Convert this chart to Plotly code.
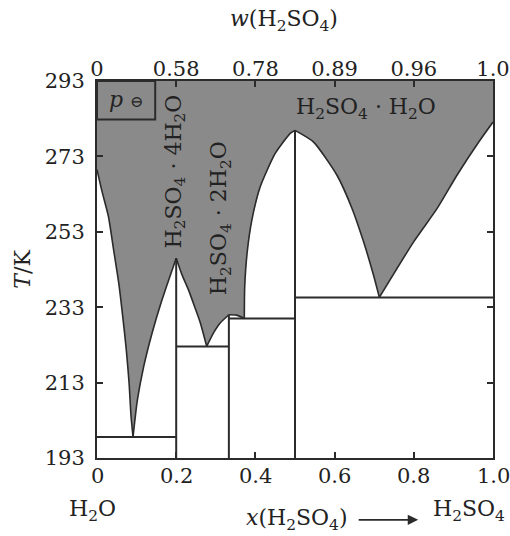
import plotly.graph_objects as go

# ---------------- data ----------------
# liquidus curves: x = mole fraction of H2SO4, T in K
ice_x = [0.0, 0.012, 0.029, 0.042, 0.055, 0.065, 0.074, 0.081, 0.086, 0.091]
ice_T = [269.5, 264.0, 257.0, 248.2, 239.3, 230.5, 221.7, 212.9, 204.0, 198.6]

tetra_left_x = [0.091, 0.102, 0.118, 0.139, 0.164, 0.2]
tetra_left_T = [198.6, 208.4, 217.3, 226.1, 234.9, 246.0]

tetra_right_x = [0.2, 0.215, 0.231, 0.247, 0.261, 0.277]
tetra_right_T = [246.0, 241.5, 237.6, 233.0, 228.8, 222.6]

di_left_x = [0.277, 0.295, 0.311, 0.333]
di_left_T = [222.6, 226.3, 228.8, 231.0]

di_right_x = [0.333, 0.352, 0.372]
di_right_T = [231.0, 230.9, 230.0]

mono_left_x = [0.372, 0.373, 0.379, 0.391, 0.412, 0.45, 0.488, 0.5]
mono_left_T = [230.0, 238.4, 247.3, 256.1, 264.9, 273.8, 279.1, 279.9]

mono_right_x = [0.5, 0.547, 0.606, 0.644, 0.673, 0.698, 0.713]
mono_right_T = [279.9, 276.8, 268.0, 259.2, 250.4, 241.6, 235.6]

acid_x = [0.713, 0.80, 0.859, 0.909, 0.964, 1.0]
acid_T = [235.6, 250.4, 259.2, 268.0, 276.8, 282.1]

# compounds (vertical lines) and eutectic lines
compound_x = [0.2, 0.333, 0.5]
compound_Tm = [246.0, 231.0, 279.9]
eutectic_T = [198.6, 222.6, 230.0, 235.6]
eutectic_from = [0.0, 0.2, 0.333, 0.5]
eutectic_to = [0.2, 0.333, 0.5, 1.0]

T_min, T_max = 193, 293
y_ticks = [193, 213, 233, 253, 273, 293]
x_ticks = [0, 0.2, 0.4, 0.6, 0.8, 1.0]
x_ticktext = ["0", "0.2", "0.4", "0.6", "0.8", "1.0"]
w_ticktext = ["0", "0.58", "0.78", "0.89", "0.96", "1.0"]

# ---------------- styling ----------------
GRAY = "#8a8a8a"
INK = "#2b2b2b"
FONT = "DejaVu Serif"

fig = go.Figure()

# liquid region (gray)
poly_x = ([0.0, 1.0] + acid_x[::-1] + mono_right_x[::-1] + mono_left_x[::-1]
          + di_right_x[::-1] + di_left_x[::-1] + tetra_right_x[::-1]
          + tetra_left_x[::-1] + ice_x[::-1] + [0.0])
poly_T = ([T_max, T_max] + acid_T[::-1] + mono_right_T[::-1] + mono_left_T[::-1]
          + di_right_T[::-1] + di_left_T[::-1] + tetra_right_T[::-1]
          + tetra_left_T[::-1] + ice_T[::-1] + [T_max])
fig.add_trace(go.Scatter(x=poly_x, y=poly_T, fill="toself", fillcolor=GRAY,
                         mode="lines", line=dict(width=0), hoverinfo="skip",
                         showlegend=False))

# liquidus curves
for cx, cT in [(ice_x, ice_T), (tetra_left_x, tetra_left_T),
               (tetra_right_x, tetra_right_T), (di_left_x, di_left_T),
               (di_right_x, di_right_T), (mono_left_x, mono_left_T),
               (mono_right_x, mono_right_T), (acid_x, acid_T)]:
    fig.add_trace(go.Scatter(x=cx, y=cT, mode="lines",
                             line=dict(color=INK, width=1.6, shape="spline", smoothing=0.6),
                             hoverinfo="skip", showlegend=False))

# compound verticals
for cx, tm in zip(compound_x, compound_Tm):
    fig.add_trace(go.Scatter(x=[cx, cx], y=[T_min, tm], mode="lines",
                             line=dict(color=INK, width=2), showlegend=False,
                             hoverinfo="skip"))
# eutectic horizontals
for x0, x1, te in zip(eutectic_from, eutectic_to, eutectic_T):
    fig.add_trace(go.Scatter(x=[x0, x1], y=[te, te], mode="lines",
                             line=dict(color=INK, width=2), showlegend=False,
                             hoverinfo="skip"))

# invisible trace for top axis
fig.add_trace(go.Scatter(x=[0, 1], y=[T_min, T_min], xaxis="x2", mode="lines",
                         line=dict(width=0), hoverinfo="skip", showlegend=False))

# p-standard box
fig.add_shape(type="rect", xref="x", yref="y", x0=0, x1=0.147, y0=282.8, y1=T_max,
              line=dict(color=INK, width=2), fillcolor="rgba(0,0,0,0)")

tf = dict(family=FONT, size=21, color="#222")
fig.update_layout(
    width=510, height=536,
    margin=dict(l=97, r=17, t=81, b=78, autoexpand=False),
    paper_bgcolor="white", plot_bgcolor="white",
    xaxis=dict(range=[0, 1], tickvals=x_ticks, showticklabels=False,
               ticks="inside", ticklen=6, tickwidth=1.5, tickcolor=INK,
               showline=True, linecolor=INK, linewidth=2, mirror="ticks",
               showgrid=False, zeroline=False, automargin=False),
    xaxis2=dict(range=[0, 1], overlaying="x", side="top", tickvals=x_ticks,
                ticktext=w_ticktext, ticks="", showline=False, showgrid=False,
                zeroline=False, tickfont=tf, ticklabelstandoff=0, automargin=False),
    yaxis=dict(range=[T_min, T_max], tickvals=y_ticks,
               ticks="inside", ticklen=6, tickwidth=1.5, tickcolor=INK,
               showline=True, linecolor=INK, linewidth=2, mirror="ticks",
               showgrid=False, zeroline=False, tickfont=tf, ticklabelstandoff=6,
               automargin=False),
)

ann_font = dict(family=FONT, size=22, color="#222")
C = dict(xanchor="center", yanchor="middle", showarrow=False, font=ann_font)
anns = [
    dict(x=0.197, y=269.0, xref="x", yref="y", text="H<sub>2</sub>SO<sub>4</sub> · 4H<sub>2</sub>O",
         textangle=-90, **C),
    dict(x=0.312, y=256.5, xref="x", yref="y", text="H<sub>2</sub>SO<sub>4</sub> · 2H<sub>2</sub>O",
         textangle=-90, **C),
    dict(x=0.68, y=285.7, xref="x", yref="y", text="H<sub>2</sub>SO<sub>4</sub> · H<sub>2</sub>O", **C),
    dict(x=0.074, y=288.2, xref="x", yref="y",
         text="<i>p</i> <span style='font-size:16px'>⊖</span>", **C),
    dict(x=-0.012, y=-0.14, xref="paper", yref="paper", text="H<sub>2</sub>O", **C),
    dict(x=0.94, y=-0.14, xref="paper", yref="paper", text="H<sub>2</sub>SO<sub>4</sub>", **C),
    dict(x=0.506, y=-0.164, xref="paper", yref="paper", text="<i>x</i>(H<sub>2</sub>SO<sub>4</sub>)", **C),
    dict(x=0.473, y=1.161, xref="paper", yref="paper", text="<i>w</i>(H<sub>2</sub>SO<sub>4</sub>)", **C),
    dict(x=-0.189, y=0.5, xref="paper", yref="paper", text="<i>T</i>/K", textangle=-90, **C),
    dict(x=0.811, y=-0.164, xref="paper", yref="paper", text="", showarrow=True,
         ax=-61, ay=0, axref="pixel", ayref="pixel", arrowhead=2, arrowsize=1.3,
         arrowwidth=1.6, arrowcolor=INK),
]
# bottom tick labels (x axis)
for tv, tt in zip(x_ticks, x_ticktext):
    anns.append(dict(x=tv, y=-0.049, xref="x", yref="paper", text=tt,
                     xanchor="center", yanchor="middle", showarrow=False, font=tf))
fig.update_layout(annotations=anns)

fig.write_html("out.html", config={"displayModeBar": False},
               post_script="document.body.style.margin='0';")
